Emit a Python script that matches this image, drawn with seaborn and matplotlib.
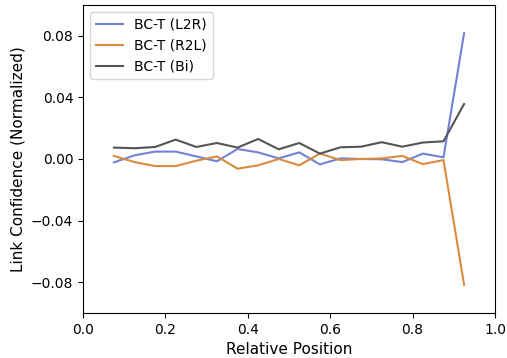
import numpy as np
import pandas as pd
import seaborn as sns
import matplotlib
matplotlib.use("Agg")
import matplotlib.pyplot as plt

positions = [0.075, 0.125, 0.175, 0.225, 0.275, 0.325, 0.375, 0.425, 0.475,
             0.525, 0.575, 0.625, 0.675, 0.725, 0.775, 0.825, 0.875, 0.925]

l2r = [-0.0022, 0.0024, 0.0048, 0.0048, 0.0017, -0.0015, 0.0065, 0.0043, 0.0004,
       0.0043, -0.0035, 0.0004, 0.0000, -0.0002, -0.0020, 0.0035, 0.0011, 0.0817]
r2l = [0.0020, -0.0020, -0.0046, -0.0046, -0.0011, 0.0017, -0.0063, -0.0041, 0.0000,
       -0.0041, 0.0035, -0.0007, 0.0000, 0.0004, 0.0020, -0.0033, -0.0007, -0.0817]
bi = [0.0074, 0.0070, 0.0078, 0.0126, 0.0078, 0.0104, 0.0074, 0.0130, 0.0063,
      0.0104, 0.0035, 0.0076, 0.0080, 0.0109, 0.0080, 0.0107, 0.0115, 0.0357]

series = {"BC-T (L2R)": l2r, "BC-T (R2L)": r2l, "BC-T (Bi)": bi}
colors = {"BC-T (L2R)": "#7282d6", "BC-T (R2L)": "#d98b3e", "BC-T (Bi)": "#555555"}

rows = []
for name, vals in series.items():
    for x, y in zip(positions, vals):
        rows.append({"pos": x, "conf": y, "model": name})
df = pd.DataFrame(rows)

fig = plt.figure(figsize=(5.07, 3.58), dpi=100)
ax = fig.add_axes([83 / 507, 1 - 313 / 358, 412 / 507, 308 / 358])

sns.lineplot(data=df, x="pos", y="conf", hue="model", palette=colors,
             estimator=None, linewidth=1.5, ax=ax)

ax.set_xlim(0, 1)
ax.set_ylim(-0.1, 0.1)
ax.set_xticks([0.0, 0.2, 0.4, 0.6, 0.8, 1.0])
ax.set_yticks([-0.08, -0.04, 0.0, 0.04, 0.08])
ax.set_yticklabels(["\u22120.08", "\u22120.04", "0.00", "0.04", "0.08"])
ax.tick_params(labelsize=10)
ax.set_xlabel("Relative Position", fontsize=11)
ax.set_ylabel("Link Confidence (Normalized)", fontsize=11)
ax.legend(loc="upper left", fontsize=10)

fig.savefig("out.png", dpi=100)
